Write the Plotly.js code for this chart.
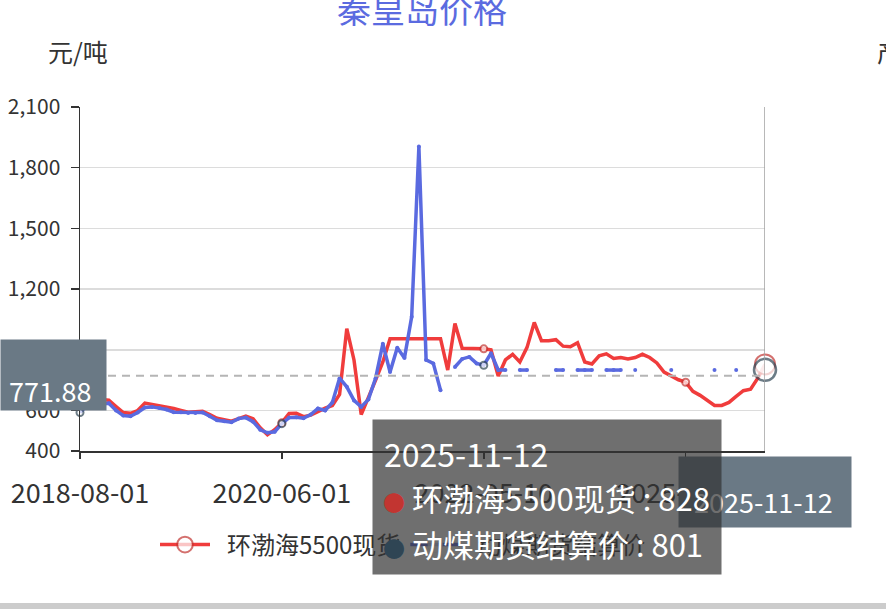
<!DOCTYPE html>
<html><head><meta charset="utf-8">
<script src="https://cdn.plot.ly/plotly-3.0.1.min.js"></script>
<style>html,body{margin:0;padding:0;background:#fff;}#chart{width:886px;height:616px;}</style>
</head><body><div id="chart"></div>
<script>
// ---- data ----
const dates = [
 '2018-08-01','2018-08-24','2018-09-17','2018-10-11','2018-11-05','2018-11-28','2018-12-21','2019-01-15',
 '2019-02-11','2019-03-06','2019-03-29','2019-04-23','2019-05-17','2019-06-11','2019-07-04','2019-07-29',
 '2019-08-21','2019-09-13','2019-10-11','2019-11-05','2019-11-28','2019-12-23','2020-01-16','2020-02-13',
 '2020-03-09','2020-04-01','2020-04-27','2020-05-14','2020-06-01','2020-06-24','2020-07-20','2020-08-13',
 '2020-09-07','2020-10-09','2020-11-03','2020-11-26','2020-12-22','2021-01-18','2021-02-09','2021-03-10',
 '2021-04-02','2021-04-28','2021-05-24','2021-06-17','2021-07-13','2021-08-06','2021-08-31','2021-09-27',
 '2021-10-26','2021-11-18','2021-12-13','2022-01-07','2022-02-07','2022-03-02','2022-03-25','2022-04-19',
 '2022-05-10','2022-06-14','2022-07-18','2022-08-22','2022-09-26','2022-10-31','2022-12-05','2023-01-09',
 '2023-02-13','2023-03-20','2023-04-24','2023-05-29','2023-07-03','2023-08-07','2023-09-11','2023-10-16',
 '2023-11-20','2023-12-25','2024-01-29','2024-03-04','2024-04-08','2024-05-13','2024-06-17','2024-07-22',
 '2024-08-26','2024-09-30','2024-11-04','2024-12-02','2025-01-02','2025-02-05','2025-03-05','2025-04-02',
 '2025-04-30','2025-05-28','2025-06-25','2025-07-23','2025-08-20','2025-09-17','2025-10-15','2025-11-12'
];
// 环渤海5500现货
const spotPrice = [
 665,662,660,655,651,620,590,586,600,637,630,626,620,610,601,592,
 594,596,580,562,555,547,560,572,560,515,480,505,540,585,587,570,
 577,595,612,625,680,1005,850,580,660,750,840,955,955,955,955,955,
 955,955,955,800,1030,908,908,908,905,900,770,850,878,840,912,1035,
 945,945,950,918,915,935,840,830,870,880,857,862,855,862,878,862,
 835,790,772,752,740,695,675,650,625,625,640,670,698,705,760,828
];
// 动煤期货结算价
const futuresPrice = [
 590,625,630,632,636,600,575,572,590,615,618,612,605,592,591,588,
 588,590,572,552,547,542,560,565,545,505,490,495,535,565,567,562,
 580,610,600,640,760,717,650,618,655,760,930,790,910,860,1063,1905,
 850,833,700,null,815,855,865,833,824,883,800,800,null,800,800,null,
 null,null,800,800,null,800,800,800,null,800,800,800,null,800,null,null,
 null,null,800,null,null,null,null,null,800,null,null,800,null,null,null,801
];
const seriesNames = ['环渤海5500现货','动煤期货结算价'];
const xTickLabels = ['2018-08-01','2020-06-01','2022-05-10','2025-01-02'];
const yTickValues = [400,600,900,1200,1500,1800,2100];
const yTickLabels = ['400','600','900','1,200','1,500','1,800','2,100'];
const pointerValue = 771.88;
const pointerDate = '2025-11-12';

// ---- styling helpers ----
const FONT = '"Noto Sans CJK SC", "Noto Sans", sans-serif';
const RED = '#f03c3c', RED_SYM = '#c23531';
const BLUE = '#5a6ae0', BLUE_SYM = '#2f4554';
const last = dates.length - 1;
const hoverIdx = dates.indexOf(pointerDate);
const symIdx = xTickLabels.map(d => dates.indexOf(d));
const selRed = symIdx.concat([hoverIdx]);
const selBlue = symIdx.filter(i => futuresPrice[i] !== null).concat([hoverIdx]);
const sizeFor = (arr, small, big, other) => arr.map((_, i) => i === hoverIdx ? big : (symIdx.includes(i) ? small : other));

const traces = [
 {type:'scatter', mode:'lines+markers', name: '\u2002' + seriesNames[0], x: dates, y: spotPrice, cliponaxis:false,
  line:{color:RED, width:3.5},
  marker:{symbol:'circle', color:'#fff', size:sizeFor(spotPrice,7,20,16), line:{color:RED_SYM, width:2}},
  selectedpoints: selRed, unselected:{marker:{opacity:0}}},
 {type:'scatter', mode:'lines+markers', name: '\u2002' + seriesNames[1], x: dates, y: futuresPrice, cliponaxis:false,
  line:{color:BLUE, width:3.5},
  marker:{symbol:'circle', color:'#fff', size:sizeFor(futuresPrice,7,22,16),
          line:{color:BLUE_SYM, width:sizeFor(futuresPrice,2,2.5,0)}},
  selectedpoints: selBlue, unselected:{marker:{opacity:1, size:4, color:BLUE}}}
];

// pixel helpers (plot area: x 80..765, y 107..451)
const L=80, R=765, T=107, B=451;
const px = x => (x - L) / (R - L);
const py = y => (B - y) / (B - T);

const dot = c => '<span style="color:'+c+';font-size:22px">●</span> ';
const ann = [];
ann.push({text:'元/吨', xref:'paper', yref:'paper', x:px(78), y:py(51), xanchor:'center', yanchor:'middle', showarrow:false, font:{size:25, color:'#333', family:FONT}});
ann.push({text:'产量', xref:'paper', yref:'paper', x:px(875), y:py(51), xanchor:'left', yanchor:'middle', showarrow:false, font:{size:25, color:'#333', family:FONT}});
// y axis pointer label
ann.push({text:' ', xref:'paper', yref:'paper', x:px(0), y:py(375), xanchor:'left', yanchor:'middle', showarrow:false, width:105, height:70, borderpad:0, bgcolor:'#6a7985'});
ann.push({text:String(pointerValue), xref:'paper', yref:'paper', x:px(50), y:py(390), xanchor:'center', yanchor:'middle', showarrow:false, font:{size:27, color:'#fff', family:FONT}});
// x axis pointer label
ann.push({text:' ', xref:'paper', yref:'paper', x:px(678), y:py(492), xanchor:'left', yanchor:'middle', showarrow:false, width:172, height:70, borderpad:0, bgcolor:'#6a7985'});
ann.push({text:pointerDate, xref:'paper', yref:'paper', x:px(763), y:py(501), xanchor:'center', yanchor:'middle', showarrow:false, font:{size:27, color:'#fff', family:FONT}});
// tooltip
ann.push({text:' ', xref:'paper', yref:'paper', x:px(372), y:py(497), xanchor:'left', yanchor:'middle', showarrow:false, width:348, height:154, borderpad:0, bgcolor:'rgba(50,50,50,0.7)'});
ann.push({text:pointerDate, xref:'paper', yref:'paper', x:px(382), y:py(453), xanchor:'left', yanchor:'middle', showarrow:false, font:{size:32, color:'#fff', family:FONT}});
ann.push({text:dot(RED_SYM)+seriesNames[0]+' : '+spotPrice[hoverIdx], xref:'paper', yref:'paper', x:px(381), y:py(497), xanchor:'left', yanchor:'middle', showarrow:false, font:{size:31, color:'#fff', family:FONT}});
ann.push({text:dot(BLUE_SYM)+seriesNames[1]+' : '+futuresPrice[hoverIdx], xref:'paper', yref:'paper', x:px(381), y:py(543), xanchor:'left', yanchor:'middle', showarrow:false, font:{size:31, color:'#fff', family:FONT}});

const layout = {
 width:886, height:616,
 margin:{l:L, r:886-R, t:T, b:616-B, pad:0},
 paper_bgcolor:'#fff', plot_bgcolor:'#fff',
 font:{family:FONT, color:'#333'},
 title:{text:'秦皇岛价格', font:{size:34, color:'#5b6be0', family:FONT}, xref:'container', yref:'container', x:422/886, xanchor:'center', y:1-11/616, yanchor:'middle'},
 showlegend:true,
 legend:{orientation:'h', x:px(155), xanchor:'left', y:py(545), yanchor:'middle', font:{size:24, color:'#333', family:FONT}, itemwidth:50, bgcolor:'rgba(0,0,0,0)'},
 xaxis:{type:'category', range:[0,last], tickvals:xTickLabels, ticktext:xTickLabels, showgrid:false, zeroline:false,
        showline:true, linecolor:'#333', linewidth:1.5, ticks:'outside', ticklen:6, tickcolor:'#333', tickwidth:1.5,
        tickfont:{size:27, color:'#333', family:FONT}, ticklabelstandoff:12},
 yaxis:{range:[400,2100], tickvals:yTickValues, ticktext:yTickLabels, showgrid:true, gridcolor:'#dcdcdc', gridwidth:1.5, zeroline:false,
        showline:true, linecolor:'#333', linewidth:1.5, ticks:'outside', ticklen:8, tickcolor:'#333', tickwidth:1.5,
        tickfont:{size:21, color:'#333', family:FONT}, ticklabelstandoff:6},
 shapes:[
  {type:'line', xref:'paper', yref:'y', x0:0, x1:1, y0:pointerValue, y1:pointerValue, line:{color:'#b5b5b5', width:2, dash:'8px,6px'}, layer:'above'},
  {type:'line', xref:'x', yref:'paper', x0:hoverIdx, x1:hoverIdx, y0:0, y1:1, line:{color:'#a0a0a0', width:1.5}, layer:'above'},
  {type:'rect', xref:'paper', yref:'paper', x0:px(0), x1:px(886), y0:py(603), y1:py(609), line:{width:0}, fillcolor:'#cccccc', layer:'above'}
 ],
 annotations: ann,
 hovermode:false
};
Plotly.newPlot('chart', traces, layout, {displayModeBar:false, staticPlot:true});
</script></body></html>
